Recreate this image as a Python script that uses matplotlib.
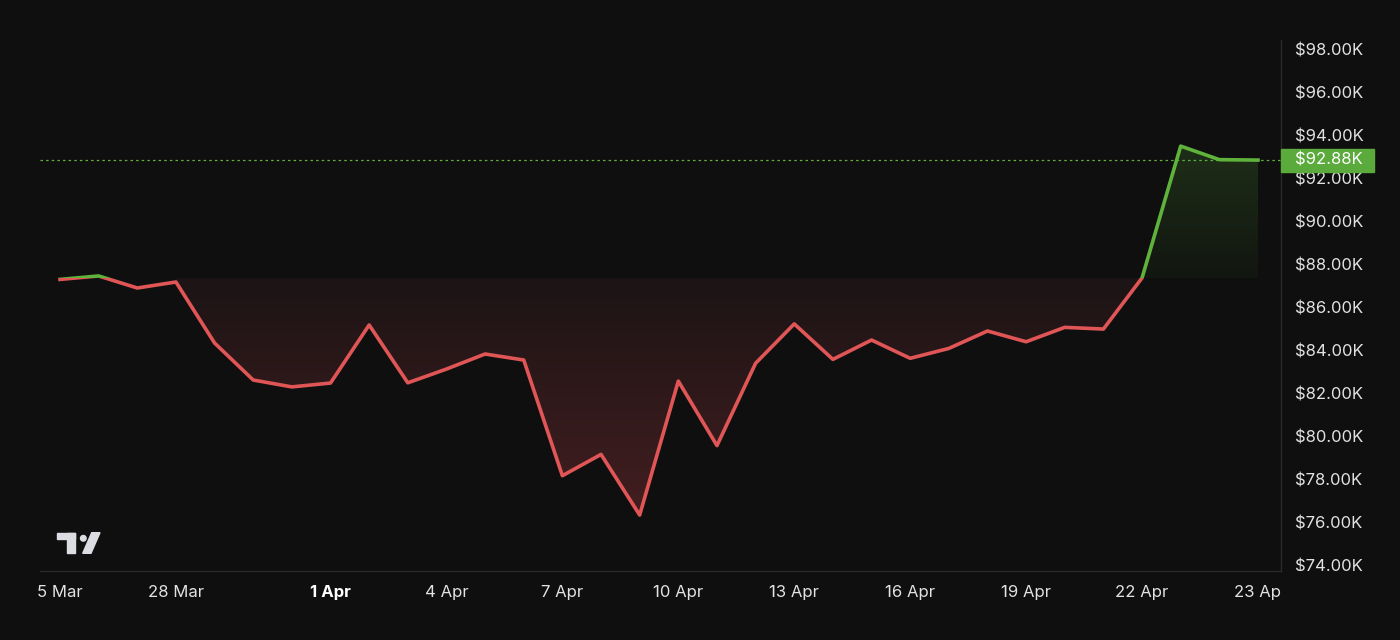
import numpy as np
import matplotlib.pyplot as plt
from matplotlib.patches import Rectangle, Polygon, Circle
from matplotlib.transforms import blended_transform_factory, Bbox

# --- data (values in thousands USD) ---
prices = [87.33, 87.49, 86.93, 87.21, 84.37, 82.65, 82.33, 82.51, 85.21, 82.52,
          83.16, 83.86, 83.58, 78.20, 79.19, 76.37, 82.60, 79.60, 83.43, 85.26,
          83.61, 84.51, 83.66, 84.12, 84.93, 84.43, 85.10, 85.02, 87.40, 93.53,
          92.90, 92.88]
baseline = 87.38
last_price = 92.88
tick_idx = [0, 3, 7, 10, 13, 16, 19, 22, 25, 28, 31]
tick_labels = ["5 Mar", "28 Mar", "1 Apr", "4 Apr", "7 Apr", "10 Apr",
               "13 Apr", "16 Apr", "19 Apr", "22 Apr", "23 Ap"]
y_ticks = list(range(74, 100, 2))

BG = "#0f0f0f"
RED = "#e05656"
GREEN = "#5fb23b"
TXT = "#e2e2e2"
GRID = "#2a2a2a"

plt.rcParams["font.family"] = ["Inter", "DejaVu Sans"]

fig = plt.figure(figsize=(14, 6.4), dpi=100, facecolor=BG)
ax = fig.add_axes([40 / 1400, 69 / 640, 1241 / 1400, 531 / 640])
ax.set_facecolor(BG)

x = np.arange(len(prices))
y = np.array(prices)

step = (1258 - 60) / 31
XLIM = (-20 / step, 31 + 23 / step)
YLIM = (98 - 521 / 21.5, 98 + 10 / 21.5)


def gradient_fill(poly, y0, y1, c0, c1):
    # vertical gradient image clipped to the fill polygon
    grad = np.linspace(0, 1, 256)[:, None]
    c0 = np.array(plt.matplotlib.colors.to_rgb(c0))
    c1 = np.array(plt.matplotlib.colors.to_rgb(c1))
    img = c0 + (c1 - c0) * grad[..., None]
    img = np.repeat(img, 2, axis=1)
    im = ax.imshow(img, extent=[x[0], x[-1], y0, y1], origin="lower",
                   aspect="auto", zorder=1, interpolation="bilinear")
    im.set_clip_path(poly.get_paths()[0], transform=ax.transData)
    poly.set_visible(False)


# red area below the baseline (starts at 28 Mar)
xs, ys = x[3:], y[3:]
red_poly = ax.fill_between(xs, ys, baseline, where=ys <= baseline,
                           interpolate=True)
gradient_fill(red_poly, y.min(), baseline, "#431e20", "#1c1415")

# green area above the baseline
gx, gy = x[28:], y[28:]
green_poly = ax.fill_between(gx, gy, baseline, where=gy >= baseline,
                             interpolate=True)
gradient_fill(green_poly, baseline, y.max(), "#121610", "#1e2e18")
ax.set_xlim(*XLIM)
ax.set_ylim(*YLIM)

# line coloured by side of the baseline
low = Rectangle((-5, 0), 50, baseline, transform=ax.transData)
high = Rectangle((-5, baseline), 50, 100, transform=ax.transData)
l1, = ax.plot(x, y, color=RED, lw=2.6, zorder=3, solid_joinstyle="round")
l1.set_clip_path(low)
l2, = ax.plot(x, y, color=GREEN, lw=2.6, zorder=3, solid_joinstyle="round")
l2.set_clip_path(high)

# last price line + label
ax.axhline(last_price, color=GREEN, lw=0.9, ls=(0, (2, 2.5)), zorder=2)
bt = blended_transform_factory(ax.transAxes, ax.transData)
box_h = 11.5 / 21.5
ax.add_patch(Rectangle((1.0, last_price - box_h), 93 / 1241, 2 * box_h,
                       transform=bt, color="#5aab3b", clip_on=False, zorder=5))
ax.text(1.0 + 14 / 1241, last_price, f"${last_price:.2f}K", transform=bt,
        color="white", fontsize=12, va="center", ha="left", zorder=6,
        clip_on=False)

# axes styling
for side in ["left", "top"]:
    ax.spines[side].set_visible(False)
for side in ["right", "bottom"]:
    ax.spines[side].set_color(GRID)
    ax.spines[side].set_linewidth(1)
ax.yaxis.tick_right()
ax.set_yticks(y_ticks)
ax.set_yticklabels([f"${v:.2f}K" for v in y_ticks])
ax.set_xticks(tick_idx)
ax.set_xticklabels(tick_labels)
ax.tick_params(axis="both", length=0, colors=TXT, labelsize=12)
ax.tick_params(axis="y", pad=10)
ax.tick_params(axis="x", pad=10)
for lbl in ax.get_xticklabels():
    if lbl.get_text() == "1 Apr":
        lbl.set_fontweight("bold")
        lbl.set_color("white")
fig.canvas.draw()
clip = Bbox([[0, 69], [1400, 640]])
for lbl in ax.get_yticklabels():
    lbl.set_clip_box(clip)
    lbl.set_clip_on(True)

# TradingView-style logo in pixel coordinates
over = fig.add_axes([0, 0, 1, 1], facecolor="none")
over.set_xlim(0, 1400)
over.set_ylim(640, 0)
over.axis("off")
LOGO = "#dcdce3"
over.add_patch(Rectangle((57.3, 532.7), 17.7, 6.6, color=LOGO))
over.add_patch(Rectangle((66.5, 532.7), 8.5, 20.6, color=LOGO))
over.add_patch(Circle((83.3, 538.3), 2.8, color=LOGO))
over.add_patch(Polygon([(82.7, 553.3), (91.0, 553.3), (100.0, 532.7), (91.7, 532.7)],
                       closed=True, color=LOGO))

fig.savefig("out.png", dpi=100, facecolor=BG)
